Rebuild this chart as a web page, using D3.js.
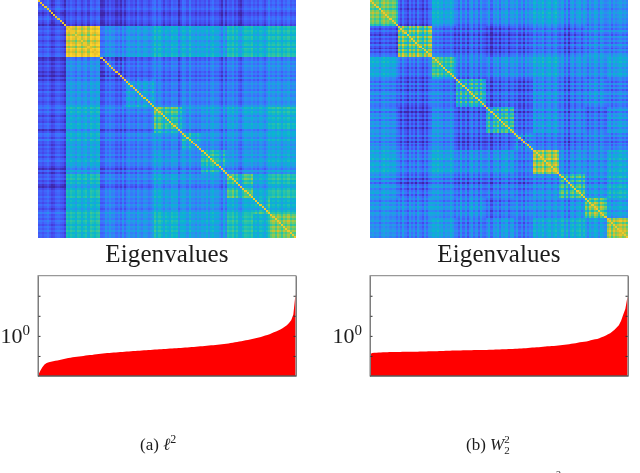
<!DOCTYPE html>
<html><head><meta charset="utf-8">
<script src="https://cdn.jsdelivr.net/npm/d3@7"></script>
<style>
html,body{margin:0;padding:0;background:#fff;overflow:hidden}
svg{display:block}
text{font-family:"Liberation Serif",serif;fill:#1c1c1c}
.axis path{stroke:#7f7f7f}
.axis line{stroke:#333}
</style></head><body>
<svg id="c" width="640" height="473"></svg>
<script>
// ---------- data ----------
const panelCaptions = ["(a) ", "(b) "];
const chartTitle = "Eigenvalues";

const blockSizesA = [13,16,11,14,13,9,12,12,8,12];
const blockSizesB = [13,16,11,14,13,9,12,12,10,10];

// upper triangles of the mean similarity between blocks
const meansA = [
 [.33,.17,.18,.20,.18,.20,.20,.18,.20,.19],
 [.60,.25,.27,.30,.30,.30,.36,.33,.35],
 [.22,.20,.20,.21,.22,.23,.23,.23],
 [.31,.20,.22,.23,.22,.23,.24],
 [.38,.22,.26,.28,.28,.33],
 [.31,.25,.25,.25,.27],
 [.40,.27,.27,.29],
 [.42,.32,.38],
 [.34,.33],
 [.44]
];
const meansB = [
 [.45,.13,.27,.22,.25,.26,.28,.25,.24,.20],
 [.60,.17,.20,.16,.20,.22,.20,.27,.22],
 [.33,.20,.24,.24,.27,.22,.23,.24],
 [.44,.20,.18,.26,.22,.28,.20],
 [.46,.20,.28,.24,.22,.26],
 [.31,.22,.22,.26,.20],
 [.52,.24,.24,.28],
 [.44,.28,.33],
 [.53,.27],
 [.50]
];

// per-item offsets (hundredths) giving the plaid stripes
const loadsA = [
 -4,-3,-5,-3,-1,-4,-7,-6,-3,-2,-4,-5,-8,
 3,1,4,2,-1,4,3,-1,2,4,-1,5,3,1,4,5,
 -5,-4,1,-2,2,-1,0,-4,-1,-5,1,
 -5,0,2,-1,1,-3,3,0,-2,2,1,-2,0,3,
 6,1,5,2,-2,3,1,-1,4,2,3,-5,0,
 4,3,-1,5,0,1,-2,2,-1,
 1,-1,3,-2,2,4,0,1,-2,-6,2,-4,
 3,1,4,-1,2,-3,-5,0,3,2,1,4,
 0,2,-1,3,1,-2,2,6,
 2,4,1,5,3,0,4,2,5,1,3,2
];
const loadsB = [
 2,4,1,3,-1,3,5,2,4,1,3,2,-2,
 1,-4,3,-2,-6,2,-3,1,-5,3,-2,-6,1,-4,2,3,
 5,3,6,2,4,-1,3,1,5,2,-3,
 0,-5,3,-4,2,-6,1,4,-3,2,-5,3,-2,-3,
 -3,2,-7,1,-2,3,-5,2,-1,3,-4,1,2,
 -2,3,-4,1,-6,2,-3,1,-1,
 4,-1,3,1,5,-2,2,4,-1,3,5,0,
 -1,3,-5,2,-7,1,3,-3,2,4,-2,3,
 1,-4,3,-1,4,2,-3,3,1,-2,
 2,5,-1,4,1,3,5,2,4,1
];

const eigenA = [
 .0105,.018,.027,.037,.045,.048,.051,.054,.057,.060,
 .063,.067,.071,.075,.079,.082,.085,.088,.091,.094,
 .097,.10,.104,.107,.11,.113,.117,.121,.126,.13,
 .133,.136,.139,.142,.145,.148,.15,.153,.156,.159,
 .162,.165,.168,.172,.175,.178,.181,.184,.187,.190,
 .193,.196,.20,.204,.207,.21,.213,.217,.22,.224,
 .228,.232,.236,.24,.244,.248,.252,.256,.261,.266,
 .271,.276,.281,.287,.293,.30,.307,.314,.321,.329,
 .337,.345,.353,.361,.369,.378,.39,.405,.42,.44,
 .46,.48,.50,.521,.545,.57,.60,.63,.66,.70,
 .74,.78,.83,.88,.96,1.03,1.12,1.22,1.35,1.5,
 1.65,1.85,2.07,2.4,2.82,3.4,4.4,6.0,11.5,121
];
const eigenB = [
 .121,.141,.143,.145,.147,.149,.151,.153,.154,.155,
 .156,.157,.157,.158,.159,.16,.16,.161,.162,.162,
 .163,.164,.164,.165,.166,.167,.168,.169,.17,.171,
 .172,.173,.174,.176,.177,.179,.181,.183,.185,.186,
 .187,.188,.189,.19,.191,.192,.193,.194,.195,.196,
 .197,.198,.199,.20,.20,.202,.204,.206,.208,.21,
 .212,.214,.216,.218,.22,.222,.224,.227,.23,.233,
 .237,.241,.245,.25,.255,.26,.265,.27,.275,.281,
 .287,.293,.30,.307,.312,.316,.325,.335,.345,.355,
 .365,.375,.383,.40,.418,.435,.455,.475,.495,.51,
 .521,.56,.60,.64,.67,.708,.77,.85,.927,1.05,
 1.2,1.36,1.65,2.0,2.6,3.4,5.5,11.2,22,92
];
const yTicks = [.1,1,10,100];
const parulaStops = ["#3e26a8","#4747eb","#3e6fff","#2796eb","#08b5d0","#31c69f","#80cc59","#dcbd29","#fccf30","#f6e620","#f9fb14"];

// ---------- drawing ----------
const color = d3.scaleLinear().domain(d3.range(11).map(d=>d/10)).range(parulaStops).clamp(true);
const svg = d3.select("#c");
const soft = svg.append("g").style("filter","blur(0.3px)");

function cells(sizes, means, loads){
  const owner = sizes.flatMap((s,k)=>d3.range(s).map(()=>k));
  const n = owner.length, out = [];
  for(let i=0;i<n;i++) for(let j=0;j<n;j++){
    const a=Math.min(owner[i],owner[j]), b=Math.max(owner[i],owner[j]);
    const base = means[a][b-a];
    const gain = a===b ? 2.6 : 1.7;
    const v = i===j ? 0.76 : base + gain*(loads[i]+loads[j])/100;
    out.push({i,j,v});
  }
  return {n,out};
}

function panel(x0,x1,sizes,means,loads,eigen,captionDraw){
  const g = soft.append("g");
  const {n,out} = cells(sizes,means,loads);
  const hx = d3.scaleBand().domain(d3.range(n)).range([x0,x1]);
  const hy = d3.scaleBand().domain(d3.range(n)).range([0,237.5]);
  g.append("g").attr("shape-rendering","crispEdges").selectAll("rect").data(out).join("rect")
    .attr("x",d=>hx(d.j)).attr("y",d=>hy(d.i))
    .attr("width",hx.bandwidth()+.4).attr("height",hy.bandwidth()+.4)
    .attr("fill",d=>color(d.v));

  g.append("text").attr("x",(x0+x1)/2).attr("y",262).attr("text-anchor","middle")
    .attr("font-size",25).attr("letter-spacing",.1).text(chartTitle);

  const x = d3.scaleLinear().domain([0,n-1]).range([x0,x1-.5]);
  const y = d3.scaleLog().domain([.01,1000]).range([376,275.7]);
  const area = d3.area().x((d,i)=>x(i)).y0(376).y1(d=>y(d));
  g.append("path").datum(eigen).attr("d",area).attr("fill","#ff0000");

  const ax = g.append("g").attr("class","axis").attr("transform",`translate(${x0},0)`)
    .call(d3.axisLeft(y).tickValues(yTicks).tickSizeInner(-2.5).tickSizeOuter(0).tickFormat(()=>""));
  ax.selectAll(".tick").filter(d=>d===1).select("text")
    .attr("x",-8).attr("dy",null).attr("y",6.5).attr("text-anchor","end").attr("font-size",22)
    .text(null).call(t=>{
      t.append("tspan").text("10");
      t.append("tspan").attr("dy",-8).attr("font-size",15).text("0");
    });
  g.append("g").attr("class","axis").attr("transform",`translate(${x1},0)`)
    .call(d3.axisRight(y).tickValues(yTicks).tickSizeInner(-2.5).tickSizeOuter(0).tickFormat(()=>""));
  g.append("rect").attr("x",x0).attr("y",275.7).attr("width",x1-x0).attr("height",100.3)
    .attr("fill","none").attr("stroke","#7f7f7f").attr("stroke-width",1);
  g.append("line").attr("x1",x0).attr("x2",x1).attr("y1",376).attr("y2",376)
    .attr("stroke","#444").attr("stroke-width",1);
  captionDraw(g);
}

panel(38,296,blockSizesA,meansA,loadsA,eigenA,g=>{
  const t=g.append("text").attr("x",140).attr("y",450).attr("font-size",17);
  t.append("tspan").text(panelCaptions[0]);
  t.append("tspan").attr("font-style","italic").text("\u2113");
  t.append("tspan").attr("dy",-7).attr("font-size",12).text("2");
});
panel(370,628,blockSizesB,meansB,loadsB,eigenB,g=>{
  const t=g.append("text").attr("x",466).attr("y",450).attr("font-size",17);
  t.append("tspan").text(panelCaptions[1]);
  t.append("tspan").attr("font-style","italic").text("W");
  t.append("tspan").attr("dy",-7).attr("font-size",11).text("2");
  t.append("tspan").attr("dy",11).attr("dx",-5.5).attr("font-size",11).text("2");
  g.append("text").attr("x",556).attr("y",478).attr("font-size",10).text("2");
});
</script></body></html>
